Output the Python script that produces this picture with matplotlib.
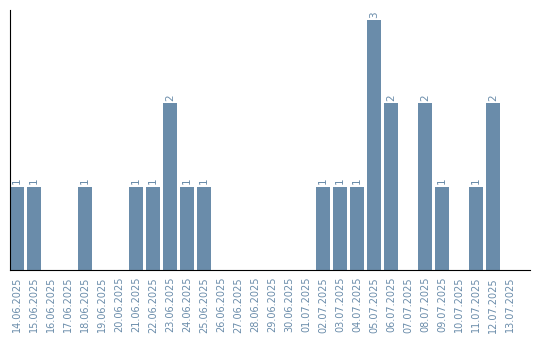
import numpy as np
import matplotlib
matplotlib.use('Agg')
import matplotlib.pyplot as plt

# Data
dates = ['14.06.2025', '15.06.2025', '16.06.2025', '17.06.2025', '18.06.2025',
         '19.06.2025', '20.06.2025', '21.06.2025', '22.06.2025', '23.06.2025',
         '24.06.2025', '25.06.2025', '26.06.2025', '27.06.2025', '28.06.2025',
         '29.06.2025', '30.06.2025', '01.07.2025', '02.07.2025', '03.07.2025',
         '04.07.2025', '05.07.2025', '06.07.2025', '07.07.2025', '08.07.2025',
         '09.07.2025', '10.07.2025', '11.07.2025', '12.07.2025', '13.07.2025']
counts = [1, 1, 0, 0, 1, 0, 0, 1, 1, 2, 1, 1, 0, 0, 0,
          0, 0, 0, 1, 1, 1, 3, 2, 0, 2, 1, 0, 1, 2, 0]

BAR_COLOR = '#6a8caa'
TEXT_COLOR = '#6a8caa'

fig = plt.figure(figsize=(5.4, 3.4), dpi=100)
ax = fig.add_axes([10 / 540, 70 / 340, 520 / 540, 260 / 340])

x = np.arange(len(dates))
bars = ax.bar(x, counts, width=0.82, color=BAR_COLOR)

# value labels above non-empty bars
for xi, c in zip(x, counts):
    if c > 0:
        ax.text(xi, c + 0.03, str(c), rotation=90, ha='center', va='bottom',
                fontsize=7.5, color=TEXT_COLOR)

ax.set_xlim(-0.41, -0.41 + 520 / 17)
ax.set_ylim(0, 3.12)
ax.set_xticks(x)
ax.set_xticklabels(dates, rotation=90, fontsize=7, color=TEXT_COLOR)
ax.tick_params(axis='x', length=0, pad=5)
ax.set_yticks([])

for s in ['top', 'right']:
    ax.spines[s].set_visible(False)
ax.spines['left'].set_color('black')
ax.spines['bottom'].set_color('black')

fig.savefig('out.png', dpi=100)
